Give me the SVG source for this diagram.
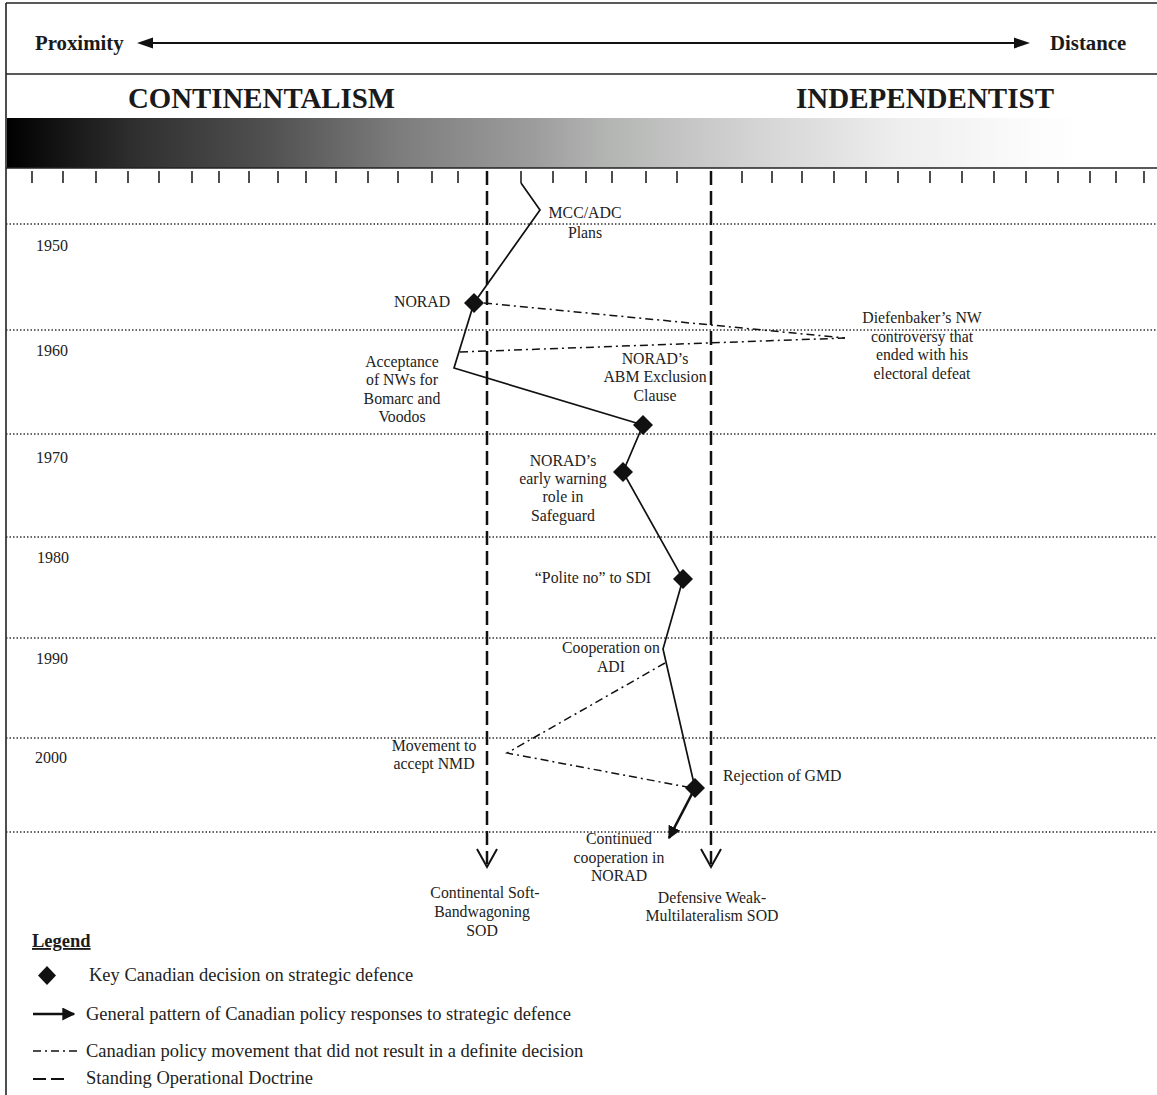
<svg xmlns="http://www.w3.org/2000/svg" width="1157" height="1095" viewBox="0 0 1157 1095">
<style>
.t{font-family:"Liberation Serif","Times New Roman",serif;font-size:15.8px;fill:#222}
.yr{font-family:"Liberation Serif","Times New Roman",serif;font-size:16px;fill:#222}
.lg{font-family:"Liberation Serif","Times New Roman",serif;font-size:18.5px;fill:#222}
.tc{text-anchor:middle}
.hb{font-family:"Liberation Serif","Times New Roman",serif;font-weight:bold;fill:#1a1a1a}
.frame{stroke:#222;stroke-width:1.6;fill:none}
.tick{stroke:#222;stroke-width:1.6}
.dot{stroke:#333;stroke-width:1.3;stroke-dasharray:1.5 2;fill:none}
.sod{stroke:#111;stroke-width:2.5;stroke-dasharray:14 6;fill:none}
.sodhead{stroke:#111;stroke-width:2;fill:none}
.path{stroke:#111;stroke-width:1.7;fill:none;stroke-linejoin:miter}
.dd{stroke:#111;stroke-width:1.5;stroke-dasharray:8 4 2 4;fill:none}
.dia{fill:#111}
</style>
<defs>
<linearGradient id="grad" x1="0" y1="0" x2="1" y2="0">
<stop offset="0" stop-color="#000"/>
<stop offset="0.115" stop-color="#2e2e2e"/>
<stop offset="0.245" stop-color="#515151"/>
<stop offset="0.366" stop-color="#7d7d7d"/>
<stop offset="0.49" stop-color="#9c9c9c"/>
<stop offset="0.56" stop-color="#b3b5b3"/>
<stop offset="0.699" stop-color="#d4d4d4"/>
<stop offset="0.832" stop-color="#eeeeee"/>
<stop offset="0.95" stop-color="#fbfbfb"/>
<stop offset="1" stop-color="#fff"/>
</linearGradient>
<marker id="ah" viewBox="0 0 10 10" refX="9" refY="5" markerWidth="5" markerHeight="5" orient="auto" markerUnits="strokeWidth">
<path d="M0,0 L10,5 L0,10 z" fill="#111"/>
</marker>
</defs>

<g id="header">
<line class="frame" x1="6" y1="3" x2="1157" y2="3"/>
<line class="frame" x1="6" y1="3" x2="6" y2="1095"/>
<line class="frame" x1="6" y1="74" x2="1157" y2="74"/>
<text class="hb" x="35" y="50" font-size="20.8">Proximity</text>
<text class="hb" x="1050" y="50" font-size="20.8">Distance</text>
<line x1="150" y1="43" x2="1016" y2="43" stroke="#111" stroke-width="2"/>
<polygon points="137,43 153,37.5 153,48.5" fill="#111"/>
<polygon points="1030,43 1014,37.5 1014,48.5" fill="#111"/>
<text class="hb" x="128" y="108" font-size="28.5" textLength="267" lengthAdjust="spacingAndGlyphs">CONTINENTALISM</text>
<text class="hb" x="796" y="108" font-size="28.5" textLength="258" lengthAdjust="spacingAndGlyphs">INDEPENDENTIST</text>
<rect x="7" y="118" width="1073" height="50" fill="url(#grad)"/>
<line class="frame" x1="6" y1="168" x2="1157" y2="168"/>
</g>

<g id="ticks">
<path class="tick" d="M32,171V183 M63,171V183 M96,171V183 M128,171V183 M159,171V183 M192,171V183 M219,171V183 M249,171V183 M278,171V183 M306,171V183 M336,171V183 M368,171V183 M398,171V183 M432,171V183 M458,171V183 M521,171V183 M553,171V183 M586,171V183 M612,171V183 M646,171V183 M677,171V183 M742,171V183 M772,171V183 M802,171V183 M834,171V183 M866,171V183 M898,171V183 M930,171V183 M962,171V183 M994,171V183 M1026,171V183 M1058,171V183 M1090,171V183 M1116,171V183 M1144,171V183"/>
</g>

<g id="decades">
<line class="dot" x1="6" y1="224" x2="1157" y2="224"/>
<line class="dot" x1="6" y1="330" x2="1157" y2="330"/>
<line class="dot" x1="6" y1="434" x2="1157" y2="434"/>
<line class="dot" x1="6" y1="537" x2="1157" y2="537"/>
<line class="dot" x1="6" y1="638" x2="1157" y2="638"/>
<line class="dot" x1="6" y1="738" x2="1157" y2="738"/>
<line class="dot" x1="6" y1="832" x2="1157" y2="832"/>
<text class="yr" x="36" y="251">1950</text>
<text class="yr" x="36" y="356">1960</text>
<text class="yr" x="36" y="463">1970</text>
<text class="yr" x="37" y="563">1980</text>
<text class="yr" x="36" y="664">1990</text>
<text class="yr" x="35" y="763">2000</text>
</g>

<g id="sod-continental">
<line class="sod" x1="487" y1="171" x2="487" y2="864"/>
<polyline class="sodhead" points="477,849 487,867 497,849"/>
<text class="t tc" x="485" y="898">Continental Soft-</text>
<text class="t tc" x="482" y="917">Bandwagoning</text>
<text class="t tc" x="482" y="936">SOD</text>
</g>

<g id="sod-defensive">
<line class="sod" x1="711" y1="171" x2="711" y2="864"/>
<polyline class="sodhead" points="701,849 711,867 721,849"/>
<text class="t tc" x="712" y="903">Defensive Weak-</text>
<text class="t tc" x="712" y="921">Multilateralism SOD</text>
</g>

<g id="connectors">
<polyline class="path" points="521,183 540,210 474,303 454,368 643,425 623,472 683,579 663,649 695,788"/>
<line x1="695" y1="788" x2="669" y2="838" stroke="#111" stroke-width="2.6" marker-end="url(#ah)"/>
<line class="dd" x1="484" y1="303" x2="845" y2="338"/>
<line class="dd" x1="460" y1="352" x2="845" y2="338"/>
<polyline class="dd" points="665,663 507,753 687,787"/>
</g>

<g id="n-mcc"><text class="t tc" x="585" y="218">MCC/ADC</text><text class="t tc" x="585" y="238">Plans</text></g>
<g id="n-norad"><polygon class="dia" points="474,293 484,303 474,313 464,303"/><text class="t" x="394" y="307">NORAD</text></g>
<g id="n-diefenbaker"><text class="t tc" x="922" y="323">Diefenbaker’s NW</text><text class="t tc" x="922" y="342">controversy that</text><text class="t tc" x="922" y="360">ended with his</text><text class="t tc" x="922" y="379">electoral defeat</text></g>
<g id="n-acceptance"><text class="t tc" x="402" y="367">Acceptance</text><text class="t tc" x="402" y="385">of NWs for</text><text class="t tc" x="402" y="404">Bomarc and</text><text class="t tc" x="402" y="422">Voodos</text></g>
<g id="n-abm"><polygon class="dia" points="643,415 653,425 643,435 633,425"/><text class="t tc" x="655" y="364">NORAD’s</text><text class="t tc" x="655" y="382">ABM Exclusion</text><text class="t tc" x="655" y="401">Clause</text></g>
<g id="n-safeguard"><polygon class="dia" points="623,462 633,472 623,482 613,472"/><text class="t tc" x="563" y="466">NORAD’s</text><text class="t tc" x="563" y="484">early warning</text><text class="t tc" x="563" y="502">role in</text><text class="t tc" x="563" y="521">Safeguard</text></g>
<g id="n-sdi"><polygon class="dia" points="683,569 693,579 683,589 673,579"/><text class="t tc" x="593" y="583">“Polite no” to SDI</text></g>
<g id="n-adi"><text class="t tc" x="611" y="653">Cooperation on</text><text class="t tc" x="611" y="672">ADI</text></g>
<g id="n-nmd"><text class="t tc" x="434" y="751">Movement to</text><text class="t tc" x="434" y="769">accept NMD</text></g>
<g id="n-gmd"><polygon class="dia" points="695,778 705,788 695,798 685,788"/><text class="t" x="723" y="781">Rejection of GMD</text></g>
<g id="n-continued"><text class="t tc" x="619" y="844">Continued</text><text class="t tc" x="619" y="863">cooperation in</text><text class="t tc" x="619" y="881">NORAD</text></g>

<g id="legend">
<text class="hb" x="32" y="947" font-size="18.5" text-decoration="underline">Legend</text>
<polygon class="dia" points="47,966 56,975.5 47,985 38,975.5"/>
<text class="lg" x="89" y="981">Key Canadian decision on strategic defence</text>
<line x1="33" y1="1014" x2="74" y2="1014" stroke="#111" stroke-width="2.6" marker-end="url(#ah)"/>
<text class="lg" x="86" y="1020">General pattern of Canadian policy responses to strategic defence</text>
<line class="dd" x1="33" y1="1051" x2="78" y2="1051"/>
<text class="lg" x="86" y="1057">Canadian policy movement that did not result in a definite decision</text>
<line x1="33" y1="1079" x2="46" y2="1079" stroke="#111" stroke-width="2"/>
<line x1="51" y1="1079" x2="64" y2="1079" stroke="#111" stroke-width="2"/>
<text class="lg" x="86" y="1084">Standing Operational Doctrine</text>
</g>
</svg>
